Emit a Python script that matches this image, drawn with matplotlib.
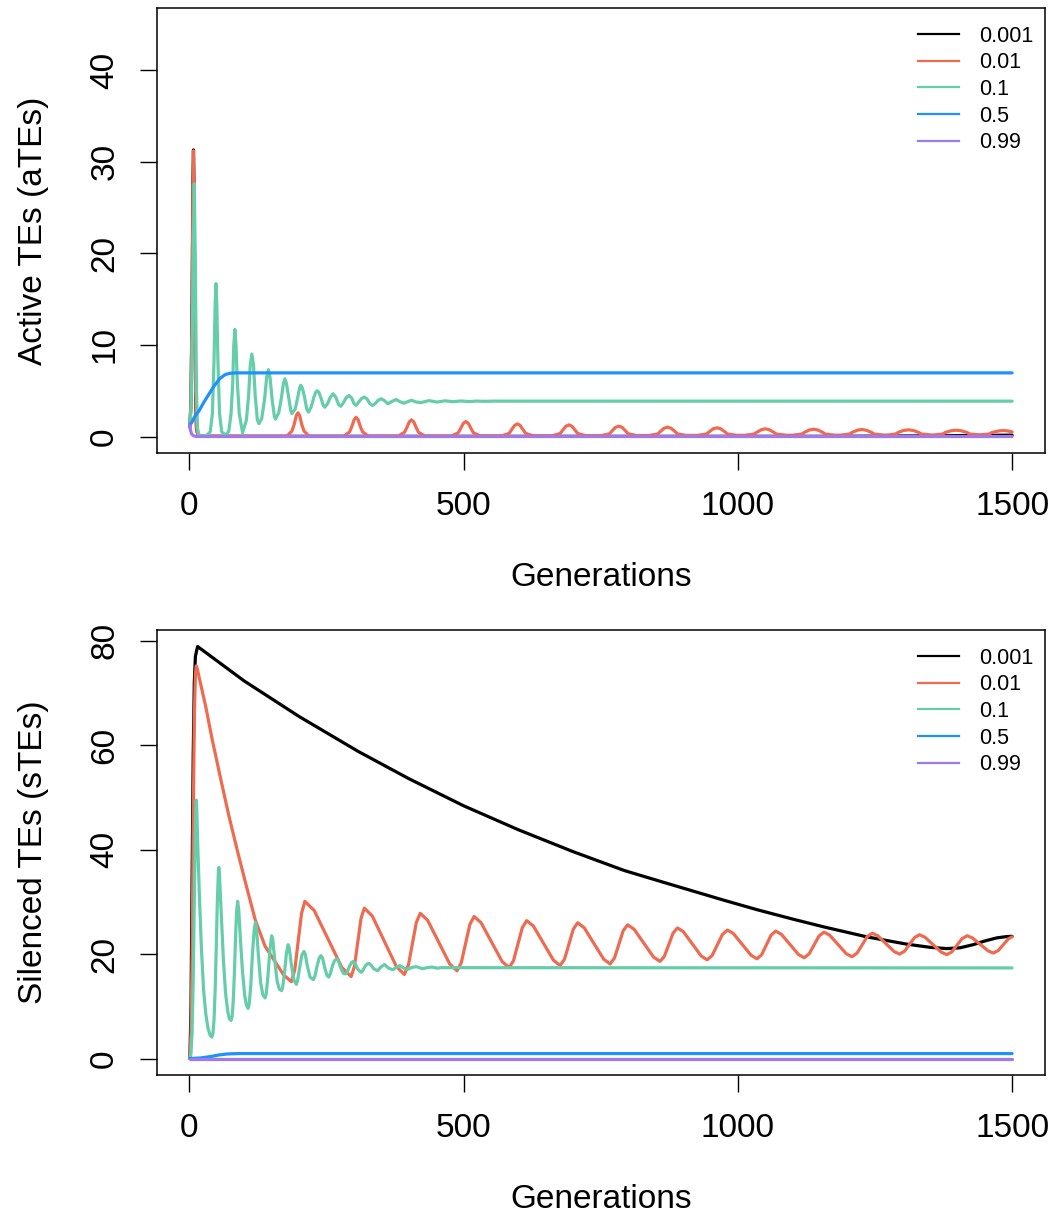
import matplotlib
matplotlib.use("Agg")
import matplotlib.pyplot as plt
from matplotlib.lines import Line2D

plt.rcParams['font.family'] = ['Liberation Sans', 'DejaVu Sans']

# Silencing rates shown in the legend, with their line colours
rates = ["0.001", "0.01", "0.1", "0.5", "0.99"]
colors = ["#000000", "#EE6A50", "#66CDAA", "#1E90FF", "#9F79EE"]

x_ticks = [0, 500, 1000, 1500]
active_ticks = [0, 10, 20, 30, 40]
silenced_ticks = [0, 20, 40, 60, 80]

# ---- Active TEs per generation: (generation, copies) ----
active_0001 = [(1, 1.0), (3, 4), (5, 15), (6.5, 28), (7.5, 31.3), (8.5, 27), (10, 14),
               (11.5, 4), (13, 0.8), (16, 0.1), (25, 0.02), (1150, 0.02), (1250, 0.04),
               (1350, 0.07), (1450, 0.12), (1500, 0.15)]

active_001 = [(1, 1.0), (3, 4), (5, 14), (6.5, 27), (7.5, 31.2), (8.5, 27), (10, 15),
              (11.5, 5), (13, 1), (15, 0.2), (20, 0.05),
              (178, 0.05), (187, 0.6), (191, 1.3), (195, 2.3), (198, 2.59), (201, 2.3), (205, 1.3), (209, 0.6), (218, 0.05),
              (282, 0.05), (292, 0.5), (296, 1.05), (300.5, 1.85), (304, 2.1), (307.5, 1.85), (312, 1.05), (316, 0.5), (326, 0.06),
              (381, 0.06), (392, 0.45), (396, 0.91), (401, 1.6), (405, 1.82), (409, 1.6), (414, 0.91), (418, 0.45), (429, 0.07),
              (478, 0.07), (490, 0.4), (494, 0.82), (499.5, 1.44), (504, 1.64), (508.5, 1.44), (514, 0.82), (518, 0.4), (530, 0.08),
              (570, 0.08), (583, 0.35), (587, 0.69), (593, 1.21), (598, 1.38), (603, 1.21), (609, 0.69), (613, 0.35), (626, 0.09),
              (662, 0.09), (676, 0.33), (680, 0.64), (686.5, 1.12), (692, 1.27), (697.5, 1.12), (704, 0.64), (708, 0.33), (722, 0.1),
              (751, 0.1), (766, 0.3), (770, 0.57), (777, 1.0), (783, 1.13), (789, 1.0), (796, 0.57), (800, 0.3), (815, 0.11),
              (838, 0.11), (854, 0.28), (858, 0.51), (865.5, 0.9), (872, 1.02), (878.5, 0.9), (886, 0.51), (890, 0.28), (906, 0.12),
              (926, 0.12), (943, 0.28), (947, 0.48), (955, 0.84), (962, 0.95), (969, 0.84), (977, 0.48), (981, 0.28), (998, 0.13),
              (1012, 0.13), (1030, 0.27), (1034, 0.44), (1043, 0.75), (1050, 0.84), (1057, 0.75), (1066, 0.44), (1070, 0.27), (1088, 0.14),
              (1100, 0.14), (1117, 0.27), (1121, 0.44), (1130, 0.71), (1138, 0.80), (1146, 0.71), (1155, 0.44), (1159, 0.27), (1176, 0.15),
              (1187, 0.15), (1204, 0.28), (1208, 0.44), (1218, 0.69), (1226, 0.77), (1234, 0.69), (1244, 0.44), (1248, 0.28), (1265, 0.16),
              (1273, 0.16), (1288, 0.28), (1292, 0.44), (1302, 0.66), (1311, 0.73), (1320, 0.66), (1330, 0.44), (1334, 0.28), (1352, 0.17),
              (1358, 0.17), (1374, 0.28), (1378, 0.44), (1389, 0.63), (1398, 0.69), (1407, 0.63), (1418, 0.44), (1422, 0.28), (1440, 0.18),
              (1443, 0.18), (1459, 0.28), (1463, 0.43), (1475, 0.60), (1484, 0.66), (1493, 0.60), (1500, 0.5)]

active_01 = [(1, 1.0), (3, 3), (5, 9), (7, 20), (9, 27.6), (11, 18), (13, 5), (15, 0.8), (18, 0.1),
             (30, 0.05), (38, 0.5), (42, 2.5), (45, 8.4), (47, 14.5), (48.5, 16.7), (50, 14.5), (52, 8.4), (55, 2.5), (59, 0.5), (66, 0.15),
             (72, 0.6), (76, 2.5), (79, 5.8), (81, 10), (83, 11.7), (85, 10), (87.5, 5.8), (91, 2.5), (97, 0.4),
             (104, 1.8), (108, 4.5), (111, 7.8), (114, 9.0), (117, 7.8), (120, 4.5), (124, 1.8), (127, 1.4),
             (132, 2.0), (137, 4.0), (141, 6.5), (144, 7.3), (147, 6.5), (151, 4.0), (155, 2.2), (157, 1.9),
             (163, 2.6), (168, 4.3), (171.5, 5.8), (174, 6.3), (177, 5.8), (181, 4.3), (185, 2.8), (187, 2.5),
             (193, 3.0), (198, 4.4), (201, 5.3), (203, 5.6), (206, 5.3), (210, 4.3), (214, 3.0), (217, 2.66),
             (222, 3.2), (227, 4.3), (230.5, 4.85), (233, 5.0), (236, 4.85), (240, 4.2), (244, 3.4), (247, 3.2),
             (252, 3.6), (257, 4.3), (262, 4.66), (267, 4.3), (272, 3.5), (276, 3.3),
             (281, 3.7), (286, 4.25), (291, 4.48), (296, 4.2), (300, 3.6), (304, 3.4),
             (309, 3.8), (314, 4.15), (319, 4.3), (324, 4.1), (329, 3.6), (334, 3.39),
             (339, 3.6), (344, 3.95), (350, 4.12), (356, 3.9), (362, 3.57),
             (370, 3.85), (377, 4.04), (384, 3.8), (391, 3.64),
             (398, 3.8), (405, 3.96), (413, 3.78), (422, 3.7),
             (437, 3.92), (452, 3.76), (466, 3.9), (481, 3.8), (495, 3.88), (510, 3.82),
             (524, 3.87), (539, 3.84), (553, 3.865), (570, 3.86), (1500, 3.86)]

active_05 = [(1, 1.2), (5, 1.6), (10, 2.2), (18, 2.84), (27, 3.8), (36, 4.66), (45, 5.5),
             (55, 6.3), (65, 6.75), (73, 6.9), (85, 6.95), (1500, 6.95)]

active_099 = [(1, 1.2), (2, 0.7), (4, 0.3), (7, 0.1), (12, 0.0), (1500, 0.0)]

# ---- Silenced TEs per generation: (generation, copies) ----
silenced_0001 = [(1, 0), (3, 10), (5, 35), (7, 58), (9, 72), (11, 77), (15, 78.9), (100, 72.3),
                 (200, 65.5), (308, 58.8), (400, 53.6), (500, 48.4), (600, 43.8), (700, 39.6),
                 (793, 36.0), (850, 34.2), (914, 32.2), (975, 30.3), (1035, 28.5), (1100, 26.7),
                 (1157, 25.2), (1235, 23.3), (1308, 21.9), (1350, 21.3), (1381, 21.05), (1405, 21.2),
                 (1429, 21.8), (1450, 22.5), (1472, 23.1), (1490, 23.35), (1500, 23.4)]

silenced_001 = [(1, 0), (3, 5), (5, 20), (7, 45), (9, 65), (11, 73.5), (12.5, 75.2), (14, 74.8),
                (20, 72.0), (30, 67.3), (42, 60.9), (57, 53.6), (72, 46.5), (88, 39.6), (103, 33.4),
                (120, 26.6), (138, 21.5), (156, 18.6), (172, 16.0), (186, 14.7),
                (192.2, 17.01), (198.3, 22.4), (204.5, 27.79), (210.6, 30.1),
                (227.5, 28.37), (252.8, 22.9), (278.1, 17.43), (295, 15.7),
                (301, 17.67), (307, 22.25), (313, 26.84), (319, 28.8),
                (333.6, 27.28), (355.5, 22.45), (377.4, 17.62), (392, 16.1),
                (399.3, 17.86), (406.5, 21.95), (413.8, 26.05), (421, 27.8),
                (434.4, 26.48), (454.5, 22.3), (474.6, 18.12), (488, 16.8),
                (495.8, 18.36), (503.5, 22.0), (511.3, 25.64), (519, 27.2),
                (531.8, 26.02), (551, 22.3), (570.2, 18.58), (583, 17.4),
                (591, 18.75), (599, 21.9), (607, 25.05), (615, 26.4),
                (627.2, 25.37), (645.5, 22.1), (663.8, 18.83), (676, 17.8),
                (684, 19.03), (692, 21.9), (700, 24.77), (708, 26.0),
                (719.8, 25.05), (737.5, 22.05), (755.2, 19.05), (767, 18.1),
                (775, 19.23), (783, 21.85), (791, 24.48), (799, 25.6),
                (810.8, 24.76), (828.5, 22.1), (846.2, 19.44), (858, 18.6),
                (866, 19.56), (874, 21.8), (882, 24.04), (890, 25.0),
                (900.8, 24.27), (917, 21.95), (933.2, 19.63), (944, 18.9),
                (953.3, 19.76), (962.5, 21.75), (971.8, 23.75), (981, 24.6),
                (991.8, 23.94), (1008, 21.85), (1024.2, 19.76), (1035, 19.1),
                (1043.5, 19.9), (1052, 21.75), (1060.5, 23.61), (1069, 24.4),
                (1079.4, 23.79), (1095, 21.85), (1110.6, 19.91), (1121, 19.3),
                (1130, 20.04), (1139, 21.75), (1148, 23.47), (1157, 24.2),
                (1167.2, 23.64), (1182.5, 21.85), (1197.8, 20.06), (1208, 19.5),
                (1217.3, 20.18), (1226.5, 21.75), (1235.8, 23.33), (1245, 24.0),
                (1255, 23.52), (1270, 22.0), (1285, 20.48), (1295, 20.0),
                (1304, 20.56), (1313, 21.85), (1322, 23.15), (1331, 23.7),
                (1341, 23.24), (1356, 21.8), (1371, 20.36), (1381, 19.9),
                (1390.3, 20.44), (1399.5, 21.7), (1408.8, 22.96), (1418, 23.5),
                (1427.6, 23.1), (1442, 21.85), (1456.4, 20.6), (1466, 20.2),
                (1475, 20.7), (1484, 21.8), (1493, 22.9), (1500, 23.3)]

silenced_01 = [(1, 0), (3, 1), (5, 5), (7, 15), (9, 30), (10.5, 41), (11.8, 48), (12.5, 49.5), (13.3, 48.5),
               (15, 42), (18, 32), (22, 21), (26, 13), (30, 8.5), (34, 5.8), (38, 4.4), (41, 4.1), (43, 4.8),
               (45, 7.5), (47, 13), (49, 21), (51, 30), (53, 36), (53.8, 36.6), (55, 35), (58, 28), (62, 19),
               (66, 12.5), (70, 9), (73, 7.6), (76, 7.3), (78, 8), (80, 11), (82, 16), (84, 22.5), (86, 28),
               (88, 30.1), (90, 28.5), (93, 23), (97, 16.5), (101, 12), (104, 10.2), (107, 9.6), (109, 10.3),
               (112, 14), (115, 20), (118, 24.5), (120.5, 26.1), (122.5, 24.8), (126, 19.5), (130, 14.5),
               (134, 12.2), (138, 11.6), (140, 12.3), (143, 15.5), (147, 21), (150, 23.5), (152, 22.8),
               (156, 18.5), (160, 14.8), (164, 13.3), (168, 13.0), (170, 13.6), (173, 16), (177, 20.2),
               (180, 21.8), (182, 21.2), (186, 18), (190, 15.2), (195, 14.2), (197, 14.8), (201, 17.3),
               (205, 19.8), (209, 20.5), (211, 20.1), (215, 17.8), (220, 15.6), (226, 15.1), (229, 15.8),
               (233, 17.8), (237, 19.3), (240, 19.7), (243, 19.2), (247, 17.3), (251, 15.9), (254, 15.6),
               (257, 16.2), (261, 17.8), (265, 18.8), (269, 19.1), (272, 18.6), (277, 17.1), (281, 16.3),
               (285, 16.2), (288, 16.6), (292, 17.7), (296, 18.4), (299, 18.6), (302, 18.2), (307, 17.1),
               (313, 16.5), (316, 16.8), (320, 17.6), (324, 18.1), (328, 18.2), (331, 17.9), (336, 17.2),
               (343, 16.8), (350, 17.6), (356, 18.0), (363, 17.3), (371, 17.0), (378, 17.5), (384, 17.8),
               (391, 17.3), (398, 17.1), (406, 17.45), (414, 17.6), (420, 17.35), (426, 17.2), (435, 17.45),
               (443, 17.5), (452, 17.3), (460, 17.4), (1500, 17.35)]

silenced_05 = [(1, 0), (20, 0.1), (40, 0.4), (55, 0.7), (70, 0.88), (90, 0.95), (1500, 0.95)]

silenced_099 = [(1, 0), (1500, 0.0)]

active_series = [active_0001, active_001, active_01, active_05, active_099]
silenced_series = [silenced_0001, silenced_001, silenced_01, silenced_05, silenced_099]

fig = plt.figure(figsize=(10.54, 12.17), dpi=100)
ax_top = fig.add_axes([0.14896, 0.62778, 0.84250, 0.36565])
ax_bot = fig.add_axes([0.14896, 0.11668, 0.84250, 0.36565])

panels = [
    (ax_top, active_series, active_ticks, (-1.8, 46.8), "Active TEs (aTEs)"),
    (ax_bot, silenced_series, silenced_ticks, (-3.156, 82.06), "Silenced TEs (sTEs)"),
]

for ax, series, yticks, ylim, ylabel in panels:
    for pts, col in zip(series, colors):
        gens = [p[0] for p in pts]
        vals = [p[1] for p in pts]
        ax.plot(gens, vals, color=col, lw=2.3, solid_joinstyle='round', solid_capstyle='round')
    ax.set_xlim(-59, 1560)
    ax.set_ylim(*ylim)
    ax.set_xticks(x_ticks)
    ax.set_yticks(yticks)
    ax.tick_params(direction='out', length=12.5, width=1.0, labelsize=24, color='black')
    ax.tick_params(axis='x', pad=15)
    ax.tick_params(axis='y', pad=14, labelrotation=90)
    for lab in ax.get_yticklabels():
        lab.set_verticalalignment('center')
    for sp in ax.spines.values():
        sp.set_linewidth(1.1)
    ax.set_xlabel("Generations", fontsize=24)
    ax.xaxis.set_label_coords(0.5, -0.245)
    ax.set_ylabel(ylabel, fontsize=24)
    ax.yaxis.set_label_coords(-0.122, 0.5)

    handles = [Line2D([], [], color=c, lw=1.6) for c in colors]
    ax.legend(handles, rates, loc='upper left', bbox_to_anchor=(0.857, 0.960),
              frameon=False, fontsize=15.5, handlelength=1.9, handletextpad=0.95,
              labelspacing=0.26, borderpad=0, borderaxespad=0)

fig.savefig("out.png", dpi=100)
